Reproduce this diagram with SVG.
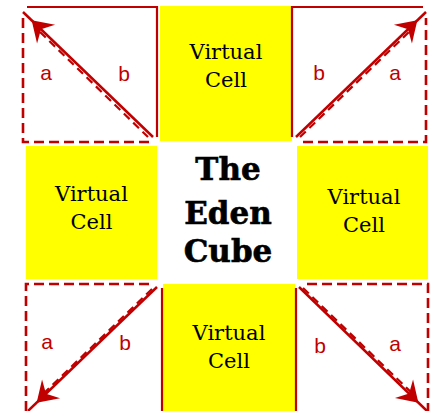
<svg xmlns="http://www.w3.org/2000/svg" width="430" height="411" viewBox="0 0 430 411">
<style>
.cell{fill:#FFFF00}
.ct{font-family:"DejaVu Serif","Liberation Serif",serif;font-size:21px;fill:#000;text-anchor:middle}
.title{font-family:"DejaVu Serif","Liberation Serif",serif;font-size:31px;font-weight:bold;fill:#000;stroke:#000;stroke-width:0.6;text-anchor:middle}
.solid{fill:none;stroke:#C00000;stroke-width:2.2}
.dash{fill:none;stroke:#C00000;stroke-width:2.6;stroke-dasharray:10 5}
.ddiag{fill:none;stroke:#C00000;stroke-width:2.2;stroke-dasharray:8 5}
.arrow{fill:none;stroke:#C00000;stroke-width:2.5;marker-end:url(#ah)}
.lbl{font-family:"Liberation Sans","DejaVu Sans",sans-serif;font-size:21px;fill:#C00000;text-anchor:middle}
</style>
<defs>
<marker id="ah" markerUnits="userSpaceOnUse" viewBox="-30 -15 50 30" markerWidth="50" markerHeight="30" refX="12" refY="0" orient="auto">
<path d="M0,0 L-20,-13 L-13,0 L-20,13 Z" fill="#C00000"/>
</marker>
</defs>
<rect width="430" height="411" fill="#fff"/>
<g id="cell-top"><rect class="cell" x="160" y="6" width="132" height="135"/><text class="ct" x="226" y="59">Virtual</text><text class="ct" x="226" y="87">Cell</text></g>
<g id="cell-left"><rect class="cell" x="26" y="146" width="131" height="133"/><text class="ct" x="91.5" y="201">Virtual</text><text class="ct" x="91.5" y="229">Cell</text></g>
<g id="cell-right"><rect class="cell" x="297" y="146" width="131" height="133"/><text class="ct" x="364" y="204">Virtual</text><text class="ct" x="364" y="232">Cell</text></g>
<g id="cell-bottom"><rect class="cell" x="163" y="284" width="132" height="127"/><text class="ct" x="229" y="340">Virtual</text><text class="ct" x="229" y="368">Cell</text></g>
<g id="center"><text class="title" x="228" y="180">The</text><text class="title" x="228" y="224">Eden</text><text class="title" x="228" y="262">Cube</text></g>
<g id="connectors">
<polyline class="solid" points="27,7 157,7 157,137"/>
<polyline class="dash" points="23,18 23,142 152,142"/>
<line class="ddiag" x1="40" y1="32" x2="148" y2="137"/>
<line class="arrow" x1="153" y1="137" x2="23" y2="12"/>
<polyline class="solid" points="292,137 292,7 423,7"/>
<polyline class="dash" points="303,142 426,142 426,18"/>
<line class="ddiag" x1="300" y1="137" x2="409" y2="32"/>
<line class="arrow" x1="296" y1="137" x2="426" y2="12"/>
<polyline class="dash" points="26,411 26,284 150,284"/>
<line class="solid" x1="162" y1="288" x2="162" y2="411"/>
<line class="ddiag" x1="152" y1="289" x2="42" y2="395"/>
<line class="arrow" x1="157" y1="287" x2="28" y2="411"/>
<polyline class="dash" points="307,284 428,284 428,411"/>
<line class="solid" x1="296" y1="288" x2="296" y2="411"/>
<line class="ddiag" x1="303" y1="288" x2="414" y2="395"/>
<line class="arrow" x1="299" y1="287" x2="427" y2="411"/>
</g>
<g id="labels">
<text class="lbl" x="46" y="80">a</text><text class="lbl" x="124" y="81">b</text>
<text class="lbl" x="319" y="80">b</text><text class="lbl" x="395" y="80">a</text>
<text class="lbl" x="47" y="349">a</text><text class="lbl" x="125" y="350">b</text>
<text class="lbl" x="320" y="353">b</text><text class="lbl" x="395" y="351">a</text>
</g>
</svg>
